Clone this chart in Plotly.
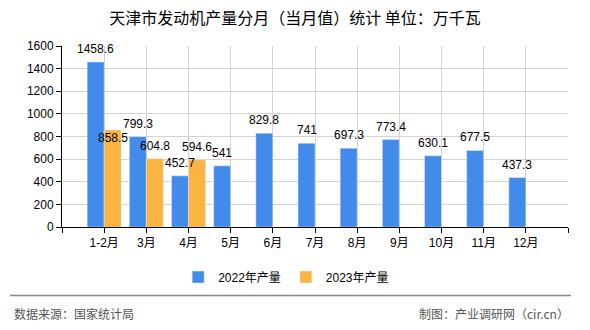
import plotly.graph_objects as go

# Monthly engine output, Tianjin (unit: 10k kW)
months = ["1-2月", "3月", "4月", "5月", "6月", "7月", "8月", "9月", "10月", "11月", "12月"]
output_2022 = [1458.6, 799.3, 452.7, 541, 829.8, 741, 697.3, 773.4, 630.1, 677.5, 437.3]
output_2023 = [858.5, 604.8, 594.6]
y_ticks = [0, 200, 400, 600, 800, 1000, 1200, 1400, 1600]

BLUE = "#428BEB"
ORANGE = "#FCB440"
LABEL_FONT = dict(family="Liberation Sans, Noto Sans CJK SC", size=12, color="#000")

x_2022 = list(range(len(output_2022)))
x_2023 = list(range(len(output_2023)))

fig = go.Figure()
fig.add_trace(go.Bar(name="2022年产量", x=x_2022, y=output_2022, marker_color=BLUE))
fig.add_trace(go.Bar(name="2023年产量", x=x_2023, y=output_2023, marker_color=ORANGE))

# value labels, kept as annotations so they sit above the neighbouring bars
HALF_BAR_PX = 8.5
value_labels = []
for xi, v in zip(x_2022, output_2022):
    value_labels.append(dict(
        x=xi, y=v, xref="x", yref="y", text=f"{v:g}", showarrow=False,
        xshift=-HALF_BAR_PX, yshift=4, yanchor="bottom", font=LABEL_FONT))
for i, (xi, v) in enumerate(zip(x_2023, output_2023)):
    # the first 2023 label tucks just under its bar top
    value_labels.append(dict(
        x=xi, y=v, xref="x", yref="y", text=f"{v:g}", showarrow=False,
        xshift=HALF_BAR_PX, yshift=(-8 if i == 0 else 4),
        yanchor=("middle" if i == 0 else "bottom"), font=LABEL_FONT))

# tick slots run one step past each end so the frame gets edge gridlines
tick_pos = list(range(-1, len(months) + 1))
tick_txt = [""] + months + [""]

footer_font = dict(family="Noto Sans CJK SC", size=12, color="#555")

fig.update_layout(
    width=590, height=330,
    margin=dict(l=62, r=22, t=46, b=101),
    paper_bgcolor="white", plot_bgcolor="white",
    barmode="group", bargap=0.194, bargroupgap=0,
    title=dict(
        text="天津市发动机产量分月（当月值）统计 单位：万千瓦",
        x=0.5, xanchor="center", xref="container",
        y=1 - 18 / 330, yanchor="middle", yref="container",
        font=dict(family="Noto Sans CJK SC", size=16, color="#000"),
    ),
    font=dict(family="Liberation Sans, Noto Sans CJK SC", size=12, color="#000"),
    legend=dict(
        orientation="h", x=0.485, xanchor="center", xref="container",
        y=1 - 277 / 330, yanchor="middle", yref="container",
        font=dict(family="Liberation Sans, Noto Sans CJK SC", size=12, color="#000"),
        itemwidth=30, traceorder="normal",
    ),
    xaxis=dict(
        range=[-1, len(months)], tickmode="array", tickvals=tick_pos, ticktext=tick_txt,
        showgrid=True, gridcolor="#d4d4d4", gridwidth=1,
        showline=True, linecolor="#000", linewidth=1,
        ticks="outside", ticklen=5, tickcolor="#000", zeroline=False,
        fixedrange=True,
    ),
    yaxis=dict(
        range=[0, 1600], tickmode="array", tickvals=y_ticks,
        showgrid=True, gridcolor="#d4d4d4", gridwidth=1,
        showline=True, linecolor="#000", linewidth=1,
        ticks="outside", ticklen=5, tickcolor="#000", zeroline=False,
        fixedrange=True,
    ),
    shapes=[
        dict(type="line", xref="paper", yref="paper",
             x0=(10 - 62) / 506, x1=(571 - 62) / 506,
             y0=(229 - 298) / 183, y1=(229 - 298) / 183,
             line=dict(color="#888", width=1.5)),
    ],
    annotations=value_labels + [
        dict(text="数据来源：国家统计局", xref="paper", yref="paper",
             x=(12 - 62) / 506, y=(229 - 316) / 183, xanchor="left", yanchor="middle",
             showarrow=False, font=footer_font),
        dict(text="制图：产业调研网（cir.cn）", xref="paper", yref="paper",
             x=(571 - 62) / 506, y=(229 - 316) / 183, xanchor="right", yanchor="middle",
             showarrow=False, font=footer_font),
    ],
)

fig.write_html("out.html")
